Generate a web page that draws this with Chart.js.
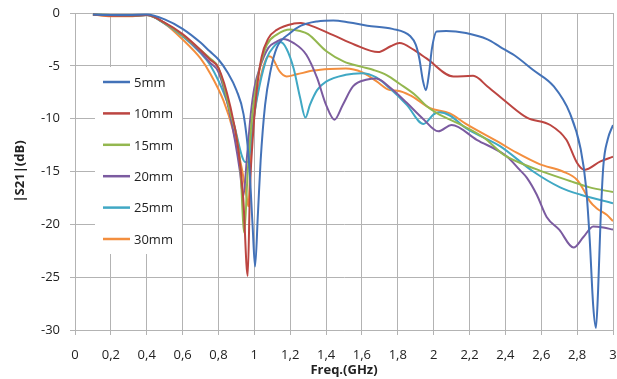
<!DOCTYPE html>
<html>
<head>
<meta charset="utf-8">
<script src="https://cdn.jsdelivr.net/npm/chart.js@4/dist/chart.umd.min.js"></script>
<style>
  html, body { margin: 0; padding: 0; background: #fff; }
  #wrap { width: 617px; height: 379px; }
</style>
</head>
<body>
<div id="wrap"><canvas id="chart" width="617" height="379"></canvas></div>
<script>
const seriesLabels = ['5mm', '10mm', '15mm', '20mm', '25mm', '30mm'];
const seriesColors = ['#4372B8', '#BC4541', '#93B74F', '#7B5BA0', '#40A8C4', '#F38E3E'];

const freq5 = [0.1, 0.2, 0.3, 0.4, 0.5, 0.6, 0.7, 0.75, 0.8, 0.85, 0.9, 0.94, 0.97, 0.99, 1.004, 1.02, 1.035, 1.06, 1.09, 1.125, 1.2, 1.26, 1.35, 1.44, 1.53, 1.63, 1.77, 1.87, 1.9, 1.92, 1.94, 1.957, 1.975, 1.99, 2.017, 2.07, 2.18, 2.3, 2.37, 2.45, 2.555, 2.67, 2.76, 2.82, 2.85, 2.87, 2.89, 2.905, 2.917, 2.93, 2.946, 2.97, 3.0];
const s21_5 = [-0.15, -0.2, -0.2, -0.15, -0.6, -1.5, -2.8, -3.6, -4.4, -5.6, -7.3, -9.6, -14, -20, -24, -19, -14, -8.7, -5.5, -3.3, -1.9, -1.2, -0.8, -0.7, -0.9, -1.2, -1.5, -2.2, -3.0, -4.3, -6.4, -7.3, -5.6, -3.4, -1.75, -1.7, -1.9, -2.5, -3.2, -4.0, -5.4, -6.95, -9.5, -12.9, -16.5, -21.4, -27.8, -29.8, -26.2, -19.9, -14.5, -12, -10.6];

const freq10 = [0.1, 0.2, 0.3, 0.4, 0.5, 0.6, 0.7, 0.753, 0.8, 0.864, 0.91, 0.938, 0.963, 0.976, 0.994, 1.013, 1.04, 1.078, 1.125, 1.22, 1.26, 1.3, 1.44, 1.56, 1.69, 1.76, 1.81, 1.89, 1.96, 2.11, 2.22, 2.3, 2.41, 2.52, 2.65, 2.74, 2.8, 2.84, 2.93, 3.0];
const s21_10 = [-0.15, -0.25, -0.25, -0.2, -0.9, -2.0, -3.5, -4.4, -5.2, -8.7, -12.8, -17.5, -24.9, -16.5, -11.2, -7.4, -4.2, -2.4, -1.6, -1.0, -0.95, -1.1, -2.1, -3.0, -3.7, -3.15, -2.85, -3.5, -4.3, -6.0, -5.95, -6.95, -8.5, -9.9, -10.6, -12, -14.2, -14.85, -14.05, -13.6];

const freq15 = [0.1, 0.2, 0.3, 0.4, 0.5, 0.6, 0.7, 0.753, 0.8, 0.864, 0.92, 0.944, 0.963, 0.98, 1.0, 1.03, 1.07, 1.125, 1.2, 1.255, 1.3, 1.4, 1.5, 1.6, 1.665, 1.74, 1.81, 1.9, 1.96, 2.02, 2.13, 2.28, 2.39, 2.575, 2.76, 2.87, 3.0];
const s21_15 = [-0.15, -0.2, -0.25, -0.2, -0.95, -2.1, -3.5, -4.3, -5.2, -9.3, -14.05, -20.8, -15, -11.2, -8.05, -5.2, -3.0, -2.05, -1.55, -1.7, -2.0, -3.6, -4.6, -5.1, -5.4, -5.9, -6.7, -7.8, -8.8, -9.5, -10.4, -11.8, -13.4, -14.8, -15.9, -16.5, -16.95];

const freq20 = [0.1, 0.2, 0.3, 0.4, 0.5, 0.6, 0.7, 0.753, 0.8, 0.864, 0.92, 0.938, 0.96, 0.98, 1.0, 1.03, 1.078, 1.125, 1.16, 1.22, 1.29, 1.35, 1.4, 1.447, 1.493, 1.55, 1.63, 1.68, 1.76, 1.85, 1.94, 2.026, 2.1, 2.24, 2.41, 2.48, 2.52, 2.575, 2.63, 2.7, 2.78, 2.835, 2.89, 2.946, 3.0];
const s21_20 = [-0.15, -0.2, -0.25, -0.2, -0.95, -2.1, -3.7, -4.7, -5.6, -9.6, -15.0, -17.4, -13.4, -9.6, -7.1, -5.2, -3.3, -2.7, -2.45, -2.85, -3.95, -6.15, -8.7, -10.1, -8.7, -6.95, -6.3, -6.2, -7.1, -8.5, -10.0, -11.2, -10.6, -12, -13.6, -14.85, -15.6, -17.2, -19.3, -20.5, -22.2, -21.2, -20.2, -20.3, -20.5];

const freq25 = [0.1, 0.2, 0.3, 0.4, 0.5, 0.6, 0.7, 0.753, 0.846, 0.892, 0.93, 0.948, 0.965, 0.985, 1.0, 1.03, 1.07, 1.11, 1.145, 1.18, 1.22, 1.255, 1.285, 1.31, 1.35, 1.4, 1.51, 1.6, 1.68, 1.76, 1.85, 1.943, 2.0, 2.03, 2.09, 2.18, 2.37, 2.555, 2.705, 2.82, 3.0];
const s21_25 = [-0.15, -0.2, -0.25, -0.2, -1.0, -2.2, -3.8, -4.9, -8.3, -10.9, -13.5, -14.1, -14.1, -11.8, -9.6, -6.8, -4.25, -3.15, -2.75, -3.4, -5.3, -8.0, -9.9, -8.7, -7.3, -6.5, -5.85, -5.7, -6.1, -7.2, -8.7, -10.5, -9.6, -9.4, -9.7, -10.9, -12.6, -15.0, -16.5, -17.2, -18.0];

const freq30 = [0.1, 0.2, 0.3, 0.4, 0.5, 0.6, 0.7, 0.753, 0.828, 0.883, 0.93, 0.958, 0.967, 0.98, 1.0, 1.03, 1.06, 1.08, 1.1, 1.14, 1.18, 1.237, 1.33, 1.42, 1.51, 1.6, 1.68, 1.757, 1.8, 1.87, 1.98, 2.09, 2.18, 2.37, 2.46, 2.59, 2.72, 2.8, 2.835, 2.87, 2.91, 2.965, 3.0];
const s21_30 = [-0.15, -0.3, -0.3, -0.2, -1.0, -2.5, -4.3, -5.7, -8.3, -11.2, -14.7, -17.5, -18.3, -13.4, -9.6, -6.5, -4.6, -4.1, -4.25, -5.5, -6.0, -5.8, -5.45, -5.3, -5.25, -5.6, -6.45, -7.3, -7.35, -7.8, -9.0, -9.5, -10.5, -12.3, -13.2, -14.3, -15.0, -15.8, -16.7, -17.8, -18.5, -19.1, -19.7];

const freqs = [freq5, freq10, freq15, freq20, freq25, freq30];
const values = [s21_5, s21_10, s21_15, s21_20, s21_25, s21_30];

const FONT = '"Open Sans", "Noto Sans", sans-serif';
const GRID = '#b3b3b3';
const TEXT = '#222';

function fmt(v) {
  return String(Math.round(v * 10) / 10).replace('.', ',');
}

const datasets = seriesLabels.map((label, i) => ({
  label,
  data: freqs[i].map((f, j) => ({ x: f, y: values[i][j] })),
  borderColor: seriesColors[i],
  backgroundColor: seriesColors[i],
  borderWidth: 2,
  pointRadius: 0,
  showLine: true,
  fill: false,
  cubicInterpolationMode: 'monotone',
}));

// legend drawn inside the plot, on a white box that hides the grid
const insideLegend = {
  id: 'insideLegend',
  beforeDatasetsDraw(chart) {
    const { ctx, chartArea } = chart;
    const left = chartArea.left + 20;
    const top = chartArea.top + 54;
    ctx.save();
    ctx.fillStyle = '#fff';
    ctx.fillRect(left, top, 87, 187);
    ctx.font = '13px ' + FONT;
    ctx.textBaseline = 'middle';
    ctx.textAlign = 'left';
    chart.data.datasets.forEach((ds, i) => {
      const y = top + 15 + i * 31.4;
      ctx.strokeStyle = ds.borderColor;
      ctx.lineWidth = 2.5;
      ctx.beginPath();
      ctx.moveTo(left + 8, y);
      ctx.lineTo(left + 35, y);
      ctx.stroke();
      ctx.fillStyle = TEXT;
      ctx.fillText(ds.label, left + 39, y + 1);
    });
    ctx.restore();
  },
};

new Chart(document.getElementById('chart'), {
  type: 'scatter',
  data: { datasets },
  options: {
    responsive: false,
    animation: false,
    layout: { padding: { top: 13, right: 4, left: 0, bottom: 0 } },
    plugins: {
      legend: { display: false },
      tooltip: { enabled: false },
    },
    scales: {
      x: {
        type: 'linear',
        min: 0,
        max: 3,
        afterFit: (s) => {
          s.height = 49;
          s.paddingLeft = 0;
          s.paddingRight = 0;
        },
        ticks: {
          stepSize: 0.2,
          callback: (v) => fmt(v),
          font: { family: FONT, size: 13 },
          color: TEXT,
          padding: 12,
          maxRotation: 0,
          autoSkip: false,
        },
        grid: { color: GRID, tickLength: 5 },
        border: { color: GRID },
        title: {
          display: true,
          text: 'Freq.(GHz)',
          font: { family: FONT, size: 13, weight: 'bold' },
          color: TEXT,
          padding: { top: 0, bottom: 1 },
        },
      },
      y: {
        min: -30,
        max: 0,
        afterFit: (s) => {
          s.width = 75;
          s.paddingTop = 0;
          s.paddingBottom = 0;
        },
        ticks: {
          stepSize: 5,
          font: { family: FONT, size: 13 },
          color: TEXT,
          padding: 10,
        },
        grid: { color: GRID, tickLength: 5 },
        border: { color: GRID },
        title: {
          display: true,
          text: '|S21|(dB)',
          font: { family: FONT, size: 13, weight: 'bold' },
          color: TEXT,
          padding: { top: 12, bottom: 0 },
        },
      },
    },
  },
  plugins: [insideLegend],
});
</script>
</body>
</html>
